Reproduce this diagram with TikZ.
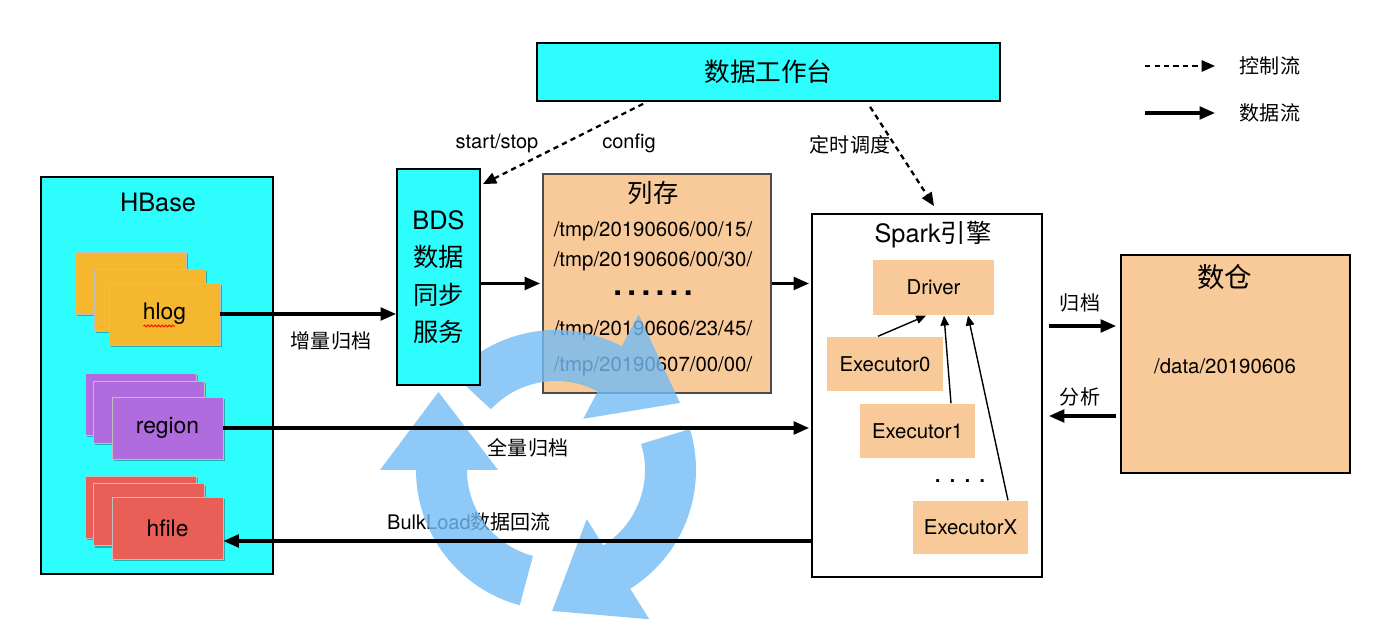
\documentclass[tikz,border=0pt]{standalone}
\usepackage{fontspec}
\setmainfont{TeX Gyre Heros}
\newfontfamily\cjk{Noto Sans CJK SC}
\usetikzlibrary{calc,arrows.meta,shadows}
\usetikzlibrary{decorations.pathmorphing}

\definecolor{boxcyan}{RGB}{45,253,253}
\definecolor{boxorange}{RGB}{248,201,153}
\definecolor{hlogyellow}{RGB}{245,183,45}
\definecolor{regionpurple}{RGB}{176,108,222}
\definecolor{hfilered}{RGB}{234,94,88}
\definecolor{loopblue}{RGB}{115,188,245}

\tikzset{
  boxframe/.style={draw=black,line width=0.5pt,inner sep=0pt},
  card/.style={minimum width=1.11cm,minimum height=0.62cm,inner sep=0pt,font=\fontsize{6.5}{8}\selectfont,
    draw=black!25,line width=0.2pt,
    drop shadow={shadow xshift=0.5pt,shadow yshift=-0.7pt,opacity=0.3,fill=black}},
  execbox/.style={fill=boxorange,minimum width=1.15cm,minimum height=0.54cm,inner sep=0pt,font=\fontsize{5.8}{7}\selectfont},
  dataflow/.style={line width=0.9pt,-{Triangle[length=4.4pt,width=3.6pt]}},
  ctrlflow/.style={line width=0.65pt,dash pattern=on 1.5pt off 1.2pt,-{Triangle[length=3.8pt,width=3.2pt]}},
  thinflow/.style={line width=0.4pt,-{Triangle[length=2.8pt,width=2.4pt]}},
  lbl/.style={font=\fontsize{5.7}{7}\selectfont,inner sep=0pt},
  titletext/.style={font=\fontsize{7.2}{8}\selectfont,inner sep=0pt},
  pathtext/.style={font=\fontsize{5.8}{7}\selectfont,inner sep=0pt},
}

\begin{document}
\begin{tikzpicture}
\useasboundingbox (0,0) rectangle (14,6.33);
\fill[white] (0,0) rectangle (14,6.33);

% HBase
\node[boxframe,fill=boxcyan,minimum width=2.32cm,minimum height=3.97cm] (hbase) at (1.57,2.575) {};
\node[titletext] (hbaset) at (1.58,4.31) {HBase};
\node[card,fill=hlogyellow] (hlogb) at (1.31,3.50) {};
\node[card,fill=hlogyellow] (hlogm) at (1.50,3.33) {};
\node[card,fill=hlogyellow] (hlog) at (1.645,3.19) {hlog};
\draw[red!85!orange,line width=0.3pt,decorate,decoration={snake,amplitude=0.25pt,segment length=1pt}] ($(hlog)+(-0.21,-0.12)$) -- ($(hlog)+(0.10,-0.12)$);
\node[card,fill=regionpurple] (regionb) at (1.405,2.29) {};
\node[card,fill=regionpurple] (regionm) at (1.485,2.21) {};
\node[card,fill=regionpurple] (region) at (1.675,2.05) {region};
\node[card,fill=hfilered] (hfileb) at (1.405,1.26) {};
\node[card,fill=hfilered] (hfilem) at (1.485,1.185) {};
\node[card,fill=hfilered] (hfile) at (1.675,1.05) {hfile};

% workbench
\node[boxframe,fill=boxcyan,minimum width=4.63cm,minimum height=0.58cm,font=\fontsize{7.3}{8}\selectfont] (wb) at (7.685,5.61) {\cjk 数据工作台};

% column store
\node[boxframe,draw=black!70,fill=boxorange,minimum width=2.28cm,minimum height=2.19cm] (cs) at (6.57,3.495) {};
\node[titletext] (cst) at (6.53,4.40) {\cjk 列存};
\node[pathtext] (cs1) at (6.53,4.015) {/tmp/20190606/00/15/};
\node[pathtext] (cs2) at (6.53,3.715) {/tmp/20190606/00/30/};
\node[font=\fontsize{9}{9}\selectfont\bfseries,inner sep=0pt] (csdots) at (6.53,3.40) {.\,.\,.\,.\,.\,.};
\node[pathtext] (cs3) at (6.53,3.03) {/tmp/20190606/23/45/};
\node[pathtext] (cs4) at (6.53,2.665) {/tmp/20190607/00/00/};

% spark
\node[boxframe,fill=white,minimum width=2.30cm,minimum height=3.63cm] (spark) at (9.27,2.375) {};
\node[titletext] (sparkt) at (9.33,3.98) {Spark{\cjk 引擎}};
\node[execbox,minimum width=1.21cm,minimum height=0.55cm] (drv) at (9.335,3.455) {Driver};
\node[execbox,minimum width=1.16cm] (e0) at (8.85,2.69) {Executor0};
\node[execbox] (e1) at (9.175,2.02) {Executor1};
\node[font=\fontsize{8}{8}\selectfont,inner sep=0pt] (edots) at (9.60,1.52) {.\kern2pt.\kern2pt.\kern2pt.};
\node[execbox,minimum height=0.53cm] (ex) at (9.705,1.055) {ExecutorX};

% warehouse
\node[boxframe,fill=boxorange,minimum width=2.29cm,minimum height=2.18cm] (dc) at (12.355,2.69) {};
\node[font=\fontsize{7.8}{8}\selectfont,inner sep=0pt] (dct) at (12.245,3.56) {\cjk 数仓};
\node[pathtext] (dcp) at (12.25,2.67) {/data/20190606};

% labels
\node[lbl] (zlgd) at (3.31,2.92) {\cjk 增量归档};
\node[lbl] (qlgd) at (5.28,1.85) {\cjk 全量归档};
\node[lbl] (bulk) at (4.69,1.11) {BulkLoad{\cjk 数据回流}};
\node[lbl] (ss) at (4.97,4.90) {start/stop};
\node[lbl] (cfg) at (6.29,4.90) {config};
\node[lbl] (dsdd) at (8.50,4.88) {\cjk 定时调度};
\node[lbl] (gd) at (10.80,3.30) {\cjk 归档};
\node[lbl] (fx) at (10.80,2.36) {\cjk 分析};

% legend
\coordinate (lg1a) at (11.45,5.67);
\coordinate (lg1b) at (12.15,5.67);
\coordinate (lg2a) at (11.45,5.20);
\coordinate (lg2b) at (12.15,5.20);
\node[lbl] (lgctrl) at (12.70,5.67) {\cjk 控制流};
\node[lbl] (lgdata) at (12.70,5.20) {\cjk 数据流};

% cycle
\begin{scope}[shift={(5.56,1.63)}]
\foreach \b [evaluate=\b as \s using \b+75, evaluate=\b as \t using \b-90] in {180,62,302}
  \fill[loopblue,opacity=0.8] (\s:1.40) arc[start angle=\s,end angle=\b,radius=1.40] -- (\b:1.76) -- ($(\b:1.175)+(\t:0.78)$) -- (\b:0.58) -- (\b:0.89) arc[start angle=\b,end angle=\s,radius=0.89] -- cycle;
\end{scope}

% BDS
\node[boxframe,fill=boxcyan,minimum width=0.83cm,minimum height=2.16cm,align=center,font=\fontsize{7.2}{10.6}\selectfont] (bds) at (4.385,3.56) {BDS\\{\cjk 数据}\\{\cjk 同步}\\{\cjk 服务}};

% connectors
\draw[dataflow] (hlog.east) -- (hlog.east -| bds.west);
\draw[dataflow] (bds.east |- cs.west) -- ($(cs.west)+(-0.02,0)$);
\draw[dataflow] (cs.east) -- ($(cs.east -| spark.west)+(-0.02,0)$);
\draw[dataflow] (region.east) -- ($(region.east -| spark.west)+(-0.02,0)$);
\coordinate (bl) at ($(hfile.east)+(0,-0.13)$);
\draw[dataflow] (bl -| spark.west) -- (bl);
\coordinate (gdy) at ($(dc.west)+(-0.04,0.38)$);
\draw[dataflow] ($(gdy -| spark.east)+(0.06,0)$) -- (gdy);
\coordinate (fxy) at ($(dc.west)+(-0.04,-0.52)$);
\draw[dataflow] (fxy) -- ($(fxy -| spark.east)+(0.06,0)$);
\draw[ctrlflow] ($(wb.south west)+(1.07,-0.02)$) -- ($(bds.north east)+(0.02,-0.16)$);
\draw[ctrlflow] ($(wb.south west)+(3.34,-0.05)$) -- ($(spark.north)+(0.07,0.07)$);
\draw[thinflow] ($(e0.north)+(-0.07,0)$) -- ($(drv.south)+(-0.075,0)$);
\draw[thinflow] ($(e1.north)+(0.335,0)$) -- ($(drv.south)+(0.105,0)$);
\draw[thinflow] ($(ex.north)+(0.375,0)$) -- ($(drv.south)+(0.345,0)$);
\draw[ctrlflow] (lg1a) -- (lg1b);
\draw[dataflow] (lg2a) -- (lg2b);
\end{tikzpicture}
\end{document}
